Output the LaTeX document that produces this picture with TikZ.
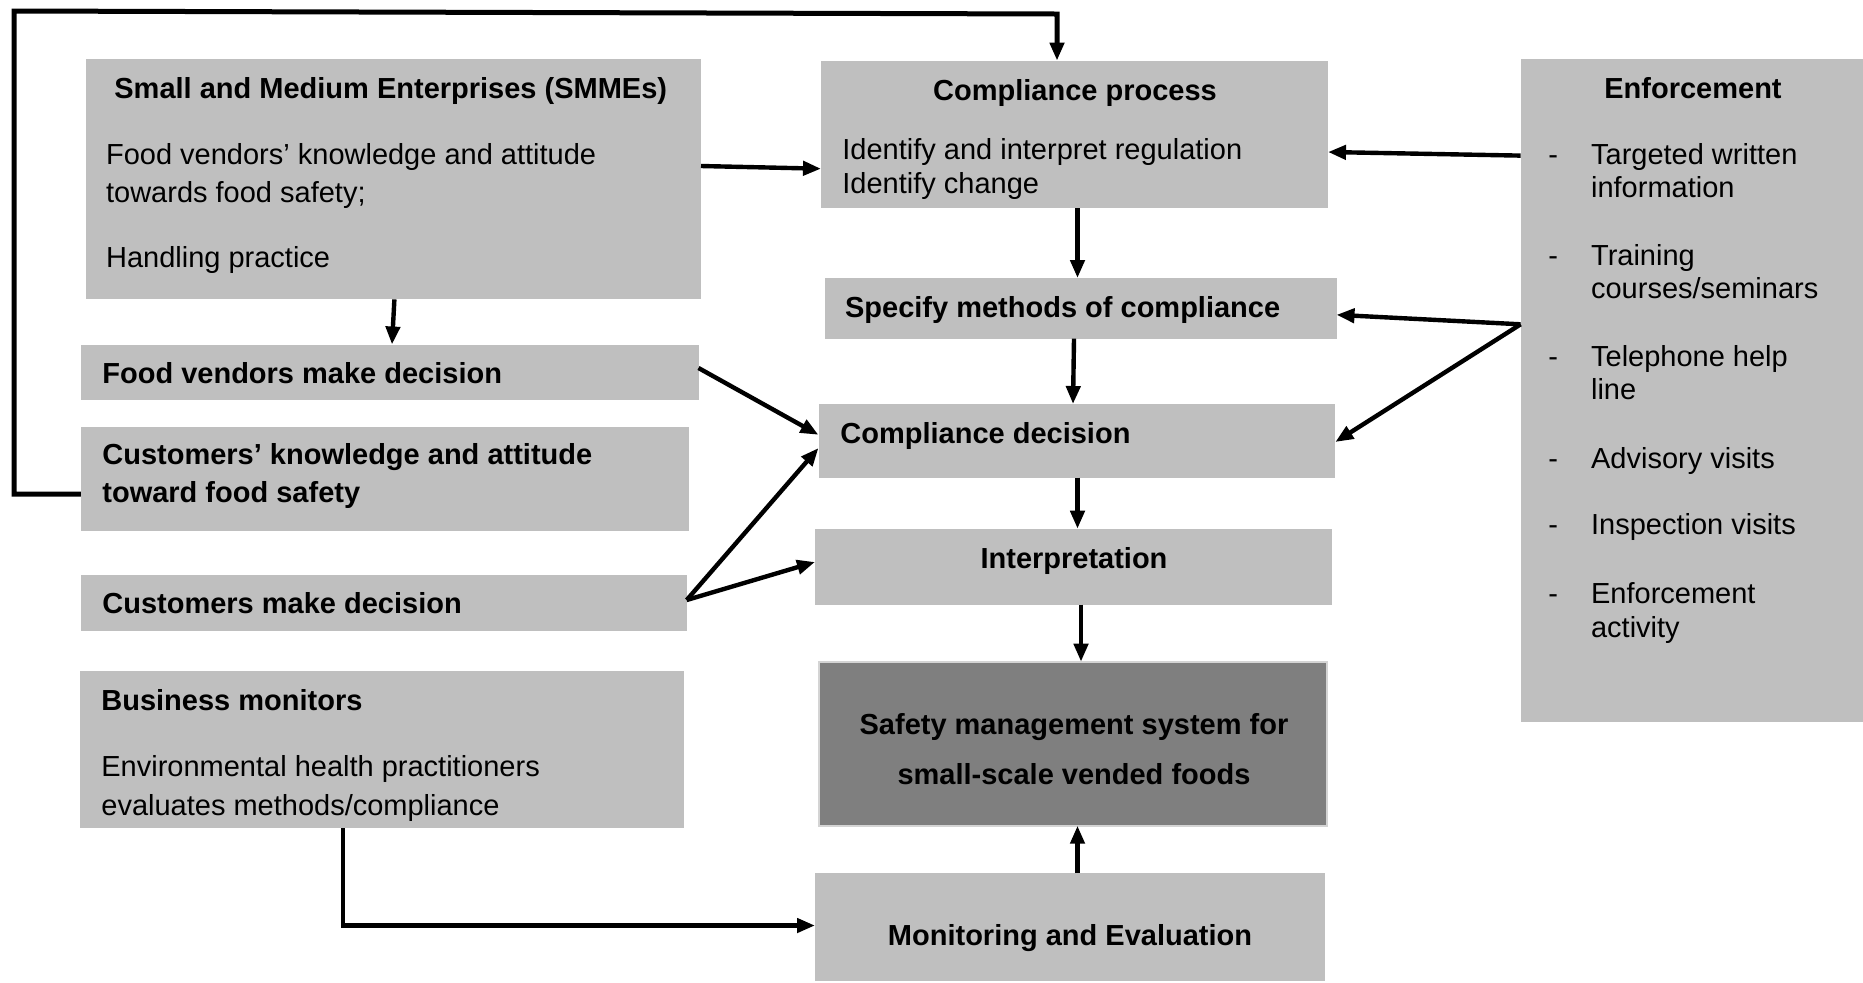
\documentclass[tikz,border=0pt]{standalone}
\usepackage{fontspec}
\setmainfont{Liberation Sans}
\usetikzlibrary{arrows.meta}
\definecolor{boxgray}{HTML}{BFBFBF}
\definecolor{coregray}{HTML}{7F7F7F}
\definecolor{edgegray}{HTML}{D4D4D4}

% box from corner (x1,y1) to corner (x2,y2), given in picture units
\newcommand\flowbox[6][box]{%
  \node[#1,minimum width={(#4-#2)*0.5pt},minimum height={(#5-#3)*0.5pt}]
    (#6) at ({(#2+#4)/2},{(#3+#5)/2}) {};}

\begin{document}
\begin{tikzpicture}[x=0.5pt,y=-0.5pt,
  box/.style={rectangle,fill=boxgray,draw=none,inner sep=0pt,outer sep=0pt},
  core/.style={rectangle,fill=coregray,draw=edgegray,line width=1pt,inner sep=0pt,outer sep=0pt},
  txt/.style={inner sep=0pt,anchor=base west,yshift=-0.7pt,font=\fontsize{14.5}{17}\selectfont},
  btxt/.style={txt,font=\fontsize{14.5}{17}\selectfont\bfseries},
  ctxt/.style={btxt,anchor=base},
  arr/.style={line width=2.2pt,-{Triangle[length=9pt,width=7pt]}}
]
\useasboundingbox (0,0) rectangle (1863,982);

% boxes
\flowbox{85.5}{59.4}{701}{299.4}{smme}
\flowbox{821}{60.6}{1328}{208}{cp}
\flowbox{1520.6}{59.4}{1863}{722}{enf}
\flowbox{824.5}{278}{1336.5}{338.6}{spec}
\flowbox{818.5}{404}{1335.3}{477.6}{cd}
\flowbox{815}{528.7}{1331.7}{604.7}{interp}
\flowbox[core]{818.5}{661.7}{1327}{825.7}{safety}
\flowbox{815}{873}{1324.6}{981.3}{me}
\flowbox{80.8}{344.5}{698.5}{400.4}{fv}
\flowbox{80.8}{426.5}{689}{531}{ck}
\flowbox{80.8}{575}{686.7}{630.8}{cmd}
\flowbox{79.6}{671.2}{684.3}{828}{bm}

% texts
\node[btxt] (t1) at (114,97.4) {Small and Medium Enterprises (SMMEs)};
\node[txt] (t2) at (105.7,162.8) {Food vendors’ knowledge and attitude};
\node[txt] (t3) at (105.7,200.8) {towards food safety;};
\node[txt] (t4) at (105.7,266) {Handling practice};

\node[ctxt] (t5) at (1075,98.6) {Compliance process};
\node[txt] (t6) at (842,158) {Identify and interpret regulation};
\node[txt] (t7) at (842,192.5) {Identify change};

\node[ctxt] (t8) at (1693,97.4) {Enforcement};
\foreach \y/\s [count=\i] in {162.8/{Targeted written},196/{information},
    263.8/{Training},297/{courses/seminars},364.7/{Telephone help},398/{line},
    466.9/{Advisory visits},533/{Inspection visits},602/{Enforcement},635.6/{activity}}
  \node[txt] (e\i) at (1590.7,\y) {\s};
\foreach \y [count=\i] in {162.8,263.8,364.7,466.9,533,602}
  \node[txt] (d\i) at (1548,\y) {-};

\node[btxt] (t9) at (844.7,316) {Specify methods of compliance};
\node[btxt] (t10) at (102,382.5) {Food vendors make decision};
\node[btxt] (t11) at (840,442) {Compliance decision};
\node[btxt] (t12) at (102,463.3) {Customers’ knowledge and attitude};
\node[btxt] (t13) at (102,501.3) {toward food safety};
\node[ctxt] (t14) at (1074,566.7) {Interpretation};
\node[btxt] (t15) at (102,611.8) {Customers make decision};
\node[btxt] (t16) at (101,709) {Business monitors};
\node[txt] (t17) at (101,774.6) {Environmental health practitioners};
\node[txt] (t18) at (101,813.8) {evaluates methods/compliance};
\node[ctxt] (t19) at (1074,733) {Safety management system for};
\node[ctxt] (t20) at (1074,783) {small-scale vended foods};
\node[ctxt] (t21) at (1070,944.5) {Monitoring and Evaluation};

% connectors
\coordinate (loopA) at (14,494);
\coordinate (loopB) at (14,11);
\coordinate (loopC) at (1057,14);
\draw[arr,line width=2.5pt] (ck.west |- loopA) -- (loopA) -- (loopB) -- (loopC) -- (cp.north -| loopC);

\draw[arr] (smme.east |- 0,166) -- (cp.west |- 0,168.7);
\draw[arr] (smme.south -| 394.4,0) -- (fv.north -| 392,0);
\draw[arr] (fv.east |- 0,368) -- (cd.west |- 0,434.8);
\draw[arr] (cmd.east |- 0,600) -- (cd.west |- 0,448);
\draw[arr] (cmd.east |- 0,600) -- (interp.west |- 0,562);

\draw[arr] (enf.west |- 0,155.6) -- (cp.east |- 0,152);
\draw[arr] (enf.west |- 0,324.3) -- (spec.east |- 0,314.8);
\draw[arr] (enf.west |- 0,324.3) -- (cd.east |- 0,442);

\draw[arr] (cp.south -| 1077.5,0) -- (spec.north -| 1077.5,0);
\draw[arr] (spec.south -| 1074,0) -- (cd.north -| 1073,0);
\draw[arr] (cd.south -| 1077.5,0) -- (interp.north -| 1077.5,0);
\draw[arr] (interp.south -| 1081,0) -- (safety.north -| 1081,0);
\draw[arr] (me.north -| 1077.5,0) -- (safety.south -| 1077.5,0);
\draw[arr] (bm.south -| 343,0) |- (me.west |- 0,925.5);
\end{tikzpicture}
\end{document}
